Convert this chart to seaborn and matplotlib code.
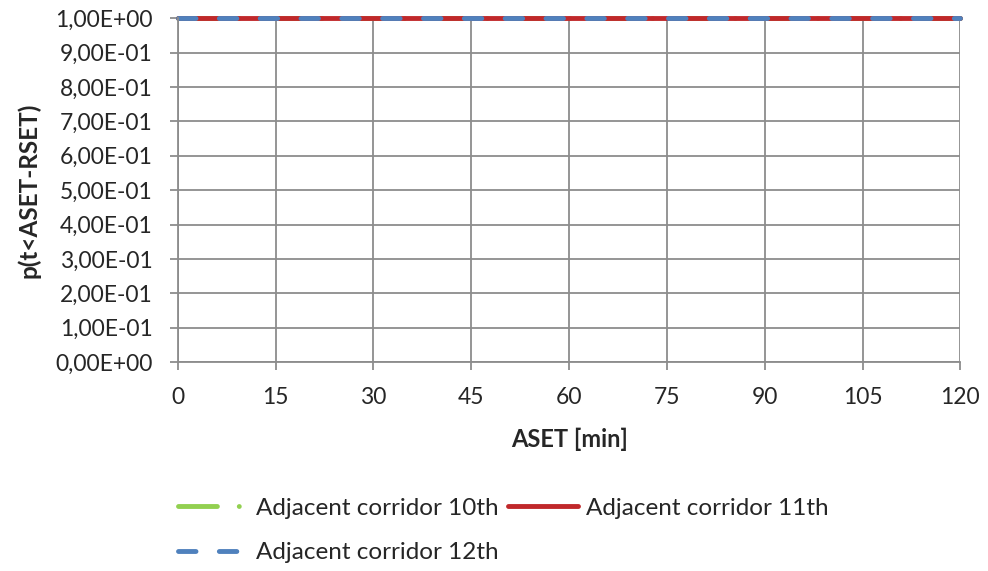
import matplotlib.pyplot as plt
import matplotlib.ticker as mticker
import seaborn as sns

# ASET [min] vs p(t<ASET-RSET)
aset = [0, 15, 30, 45, 60, 75, 90, 105, 120]
p_10th = [1.0, 1.0, 1.0, 1.0, 1.0, 1.0, 1.0, 1.0, 1.0]
p_11th = [1.0, 1.0, 1.0, 1.0, 1.0, 1.0, 1.0, 1.0, 1.0]
p_12th = [1.0, 1.0, 1.0, 1.0, 1.0, 1.0, 1.0, 1.0, 1.0]
labels = ['Adjacent corridor 10th', 'Adjacent corridor 11th', 'Adjacent corridor 12th']
yticks = [0.0, 0.1, 0.2, 0.3, 0.4, 0.5, 0.6, 0.7, 0.8, 0.9, 1.0]


def sci_comma(v, _):
    m, e = ('%.2E' % v).split('E')
    return '%sE%s%02d' % (m.replace('.', ','), '-' if int(e) < 0 else '+', abs(int(e)))


sns.set_style('white')
plt.rcParams['font.family'] = ['Lato', 'DejaVu Sans']

fig = plt.figure(figsize=(9.88, 5.71), dpi=100)
ax = fig.add_axes([0.180, 0.366, 0.792, 0.602])

sns.lineplot(x=aset, y=p_10th, ax=ax, color='#92d050', linewidth=3.5,
             label=labels[0])
ax.lines[-1].set_dashes([8, 4.5, 0.01, 4.5])
ax.lines[-1].set_dash_capstyle('round')
sns.lineplot(x=aset, y=p_11th, ax=ax, color='#c0282b', linewidth=3.5,
             label=labels[1])
sns.lineplot(x=aset, y=p_12th, ax=ax, color='#4f81bd', linewidth=3.5,
             label=labels[2])
ax.lines[-1].set_dashes([3.6, 4.8])
ax.lines[-1].set_dash_capstyle('round')
for ln in ax.lines:
    ln.set_clip_on(False)

ax.set_xlim(0, 120)
ax.set_ylim(0, 1)
ax.set_xticks(aset)
ax.set_yticks(yticks)
ax.yaxis.set_major_formatter(mticker.FuncFormatter(sci_comma))
ax.grid(True, color='#8c8c8c', linewidth=1.3)
for s in ax.spines.values():
    s.set_color('#8c8c8c')
    s.set_linewidth(1.3)
ax.spines['top'].set_visible(False)
ax.spines['right'].set_visible(False)
ax.tick_params(axis='both', length=6, width=1.3, color='#8c8c8c',
               labelsize=16.5, pad=12, direction='out', left=True, bottom=True)

ax.set_xlabel('ASET [min]', fontsize=17, fontweight='bold', labelpad=14)
ax.set_ylabel('p(t<ASET-RSET)', fontsize=17.5, fontweight='bold', labelpad=11)

# column-major fill: 10th / 12th in first column, 11th in second
h, l = ax.get_legend_handles_labels()
order = [0, 2, 1]
ax.legend([h[i] for i in order], [l[i] for i in order],
          loc='upper left', bbox_to_anchor=(-0.028, -0.331), ncol=2,
          frameon=False, fontsize=17.5, handlelength=2.9, handletextpad=0.3,
          columnspacing=0.4, labelspacing=0.96)

fig.savefig('out.png', dpi=100)
